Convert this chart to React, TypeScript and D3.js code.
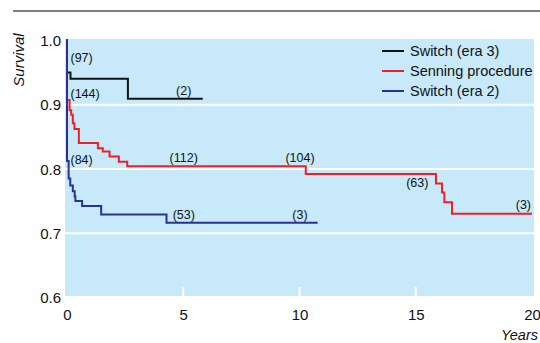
import React, { useEffect, useRef } from 'react';
import * as d3 from 'd3';

const xTicks = [0, 5, 10, 15, 20];
const yTicks = [0.6, 0.7, 0.8, 0.9, 1.0];

const seriesNames = ['Switch (era 3)', 'Senning procedure', 'Switch (era 2)'];
const seriesColors = ['#111111', '#ec2127', '#2b3192'];

// Kaplan-Meier steps: years, survival
const era3Years = [0, 0, 0.15, 2.62, 5.84];
const era3Surv = [1, 0.948, 0.938, 0.907, 0.907];

const senningYears = [0, 0, 0.11, 0.18, 0.25, 0.32, 0.51, 1.33, 1.54, 1.83, 2.23, 2.59, 10.27, 15.87, 16.13, 16.23, 16.56, 20];
const senningSurv = [1, 0.905, 0.889, 0.882, 0.869, 0.86, 0.838, 0.83, 0.825, 0.817, 0.809, 0.802, 0.79, 0.775, 0.761, 0.746, 0.728, 0.728];

const era2Years = [0, 0, 0.07, 0.14, 0.25, 0.33, 0.36, 0.65, 1.47, 4.28, 10.78];
const era2Surv = [1, 0.81, 0.783, 0.772, 0.763, 0.755, 0.748, 0.74, 0.727, 0.714, 0.714];

// numbers at risk
const era3RiskYears = [0, 5];
const era3Risk = [97, 2];
const senningRiskYears = [0, 5, 10, 15, 20];
const senningRisk = [144, 112, 104, 63, 3];
const era2RiskYears = [0, 5, 10];
const era2Risk = [84, 53, 3];

const FONT = "'Liberation Sans', Arial, sans-serif";

function App() {
    const ref = useRef<SVGSVGElement>(null);

    useEffect(() => {
        const svg = d3.select(ref.current);
        svg.selectAll('*').remove();

        const x = d3.scaleLinear().domain([0, 20]).range([67, 532]);
        const y = d3.scaleLinear().domain([0.6, 1.0]).range([296, 39]);

        // rule at top
        svg.append('line')
            .attr('x1', 13).attr('x2', 540).attr('y1', 11).attr('y2', 11)
            .attr('stroke', '#000').attr('stroke-width', 1.2);

        // plot background
        svg.append('rect')
            .attr('x', 65).attr('y', 39)
            .attr('width', 469).attr('height', 257)
            .attr('fill', '#c7e9f9');

        // gridlines
        svg.selectAll('.grid')
            .data(yTicks.filter(d => d > 0.6 && d < 1))
            .enter()
            .append('line')
            .attr('x1', 65).attr('x2', 534)
            .attr('y1', d => y(d) + 1.5).attr('y2', d => y(d) + 1.5)
            .attr('stroke', '#fff').attr('stroke-width', 2);

        // bottom tick marks
        svg.selectAll('.xtick')
            .data(xTicks.filter(d => d > 0 && d < 20))
            .enter()
            .append('line')
            .attr('x1', d => x(d)).attr('x2', d => x(d))
            .attr('y1', 296).attr('y2', 287)
            .attr('stroke', '#fff').attr('stroke-width', 2);

        // tick labels
        svg.selectAll('.ylab')
            .data(yTicks)
            .enter()
            .append('text')
            .attr('x', 61).attr('y', d => y(d) + 7)
            .attr('text-anchor', 'end')
            .attr('font-family', FONT).attr('font-size', 15).attr('fill', '#111')
            .text(d => d.toFixed(1));

        svg.selectAll('.xlab')
            .data(xTicks)
            .enter()
            .append('text')
            .attr('x', d => x(d) + 0.5).attr('y', 320)
            .attr('text-anchor', 'middle')
            .attr('font-family', FONT).attr('font-size', 15).attr('fill', '#111')
            .text(d => d);

        svg.append('text')
            .attr('transform', 'translate(24,60) rotate(-90)')
            .attr('text-anchor', 'middle')
            .attr('font-family', FONT).attr('font-size', 15)
            .attr('font-style', 'italic').attr('fill', '#111')
            .text('Survival');

        svg.append('text')
            .attr('x', 538).attr('y', 340)
            .attr('text-anchor', 'end')
            .attr('font-family', FONT).attr('font-size', 14.5)
            .attr('font-style', 'italic').attr('fill', '#111')
            .text('Years');

        const series = [
            { years: era3Years, surv: era3Surv, riskYears: era3RiskYears, risk: era3Risk },
            { years: senningYears, surv: senningSurv, riskYears: senningRiskYears, risk: senningRisk },
            { years: era2Years, surv: era2Surv, riskYears: era2RiskYears, risk: era2Risk },
        ];

        const line = d3.line<[number, number]>()
            .x(d => x(d[0]))
            .y(d => y(d[1]))
            .curve(d3.curveStepAfter);

        series.forEach((s, i) => {
            const pts = s.years.map((t, j) => [t, s.surv[j]] as [number, number]);
            svg.append('path')
                .attr('d', line(pts))
                .attr('fill', 'none')
                .attr('stroke', seriesColors[i])
                .attr('stroke-width', 2);
        });

        // offsets for the labels at time 0
        const startDy = [-10, -2, 3];
        series.forEach((s, i) => {
            const valueAt = (t: number) => {
                let v = s.surv[0];
                s.years.forEach((yr, j) => { if (yr <= t) v = s.surv[j]; });
                return v;
            };
            s.riskYears.forEach((t, j) => {
                const yy = y(valueAt(t));
                let anchor = 'middle';
                let tx = x(t) + 0.5;
                let ty = yy - 4;
                if (t === 0) { anchor = 'start'; tx = x(0) + 3.5; ty = yy + startDy[i]; }
                if (t === 20) { anchor = 'end'; tx = x(20) - 1; ty = yy - 5; }
                if (t === 15) { tx = x(t) + 1.5; ty = yy + 13; }
                svg.append('text')
                    .attr('x', tx).attr('y', ty)
                    .attr('text-anchor', anchor)
                    .attr('font-family', FONT).attr('font-size', 12.5).attr('fill', '#111')
                    .text(`(${s.risk[j]})`);
            });
        });

        // legend
        const legend = svg.append('g');
        seriesNames.forEach((name, i) => {
            const ly = 51 + i * 20;
            legend.append('line')
                .attr('x1', 382).attr('x2', 404).attr('y1', ly).attr('y2', ly)
                .attr('stroke', seriesColors[i]).attr('stroke-width', 2);
            legend.append('text')
                .attr('x', 410).attr('y', ly + 5)
                .attr('font-family', FONT).attr('font-size', 14.5).attr('fill', '#111')
                .text(name);
        });
    }, []);

    return (
        <div style={{ position: 'absolute', left: 0, top: 0 }}>
            <svg ref={ref} width={540} height={343} style={{ display: 'block', background: '#fff' }}></svg>
        </div>
    );
}

export default App;
